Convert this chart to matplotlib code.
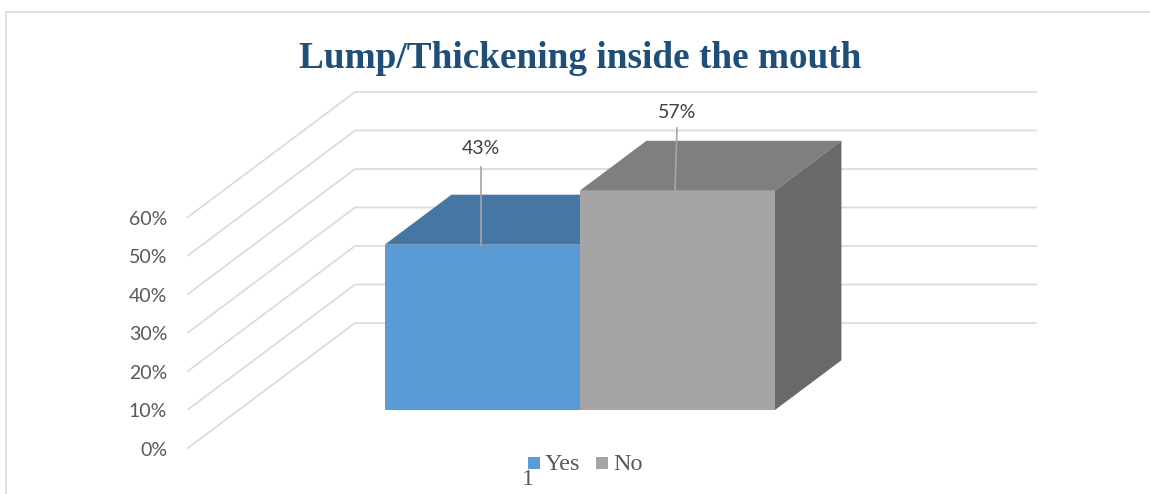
"""Lump/Thickening chart: a flat matplotlib redraw of an Excel 3D column chart."""

import matplotlib

matplotlib.use("Agg")
import matplotlib.pyplot as plt
from matplotlib.patches import Rectangle

TITLE = "Lump/Thickening inside the mouth"
CATEGORY = "1"
SERIES = ["Yes", "No"]
VALUES = [0.43, 0.57]
VALUE_LABELS = ["43%", "57%"]
TICKS = [0.0, 0.1, 0.2, 0.3, 0.4, 0.5, 0.6]
TICK_LABELS = ["0%", "10%", "20%", "30%", "40%", "50%", "60%"]

FRONT = ["#5B9BD5", "#A5A5A5"]
TOP = ["#4676A3", "#7F7F7F"]
SIDE = ["#44709A", "#696969"]
GRID = "#DCDCDC"
TEXT = "#595959"

W, H = 1150, 494
PX_PER_UNIT = 385.0  # pixels for 100% on the value axis
ZERO_Y = 448.0  # pixel row of 0% at the front of the floor
DEPTH_X, DEPTH_Y = 167.0, 125.0  # floor depth offset in pixels
FLOOR_LEFT, WALL_RIGHT = 188.0, 1036.0
BAR_LEFT, BAR_W = 334.2, 195.0
BAR_D0, BAR_D1 = 0.302, 0.702


def project(x, v, d):
    """Oblique projection: depth d (0..1) shifts a point right and up."""
    return x + DEPTH_X * d, v + DEPTH_Y * d / PX_PER_UNIT


def poly(ax, pts, color, z):
    ax.fill([p[0] for p in pts], [p[1] for p in pts], color=color, lw=0, zorder=z)


fig = plt.figure(figsize=(W / 100, H / 100), dpi=100)
ax = fig.add_axes([0, 0, 1, 1])
ax.set_xlim(0, W)
ax.set_ylim((ZERO_Y - H) / PX_PER_UNIT, ZERO_Y / PX_PER_UNIT)
ax.axis("off")


def py(pixel_row):
    return (ZERO_Y - pixel_row) / PX_PER_UNIT


# outer chart frame, open on the right and bottom
ax.plot([6, 6, W], [py(H), py(12), py(12)], color=GRID, lw=1.3, zorder=1)

for t, lab in zip(TICKS, TICK_LABELS):
    x0, y0 = project(FLOOR_LEFT, t, 0)
    x1, y1 = project(FLOOR_LEFT, t, 1)
    ax.plot([x0, x1, WALL_RIGHT], [y0, y1, y1], color=GRID, lw=1.3, zorder=1,
            solid_joinstyle="miter")
    ax.text(167, t - 2 / PX_PER_UNIT, lab, ha="right", va="center", color=TEXT,
            fontsize=14, family="Lato")

for i, (val, label) in enumerate(zip(VALUES, VALUE_LABELS)):
    left = BAR_LEFT + i * BAR_W
    right = left + BAR_W
    z = 3 + i
    poly(ax, [project(left, val, BAR_D0), project(left, val, BAR_D1),
              project(right, val, BAR_D1), project(right, val, BAR_D0)], TOP[i], z)
    poly(ax, [project(right, 0, BAR_D0), project(right, 0, BAR_D1),
              project(right, val, BAR_D1), project(right, val, BAR_D0)], SIDE[i], z)
    poly(ax, [project(left, 0, BAR_D0), project(right, 0, BAR_D0),
              project(right, val, BAR_D0), project(left, val, BAR_D0)], FRONT[i], z)

# leader lines and data labels
label_x = [481, 677]
label_row = [148, 112]
leader_row = [167, 128]
leader_foot = [481, 675]
for i, label in enumerate(VALUE_LABELS):
    _, top = project(0, VALUES[i], BAR_D0)
    ax.plot([leader_foot[i], label_x[i]], [top, py(leader_row[i])], color="#A6A6A6",
            lw=1.2, zorder=6)
    ax.text(label_x[i], py(label_row[i]), label, ha="center", va="center",
            color="#404040", fontsize=14, family="Lato", zorder=7)

ax.text(580.5, py(58), TITLE, ha="center", va="center", color="#1F4E79",
        fontsize=26.8, fontweight="bold", family="Liberation Serif")

# legend, placed by hand like the original
legend_x = [528, 596]
legend_text_x = [545, 613]
for i, name in enumerate(SERIES):
    ax.add_patch(Rectangle((legend_x[i], py(469)), 12, 12 / PX_PER_UNIT,
                           color=FRONT[i], lw=0, zorder=6))
    ax.text(legend_text_x[i], py(464), name, ha="left", va="center", color=TEXT,
            fontsize=17.5, family="Liberation Serif")
ax.text(528, py(479), CATEGORY, ha="center", va="center", color=TEXT,
        fontsize=17.5, family="Liberation Serif")

fig.savefig("out.png", dpi=100)
plt.close(fig)
